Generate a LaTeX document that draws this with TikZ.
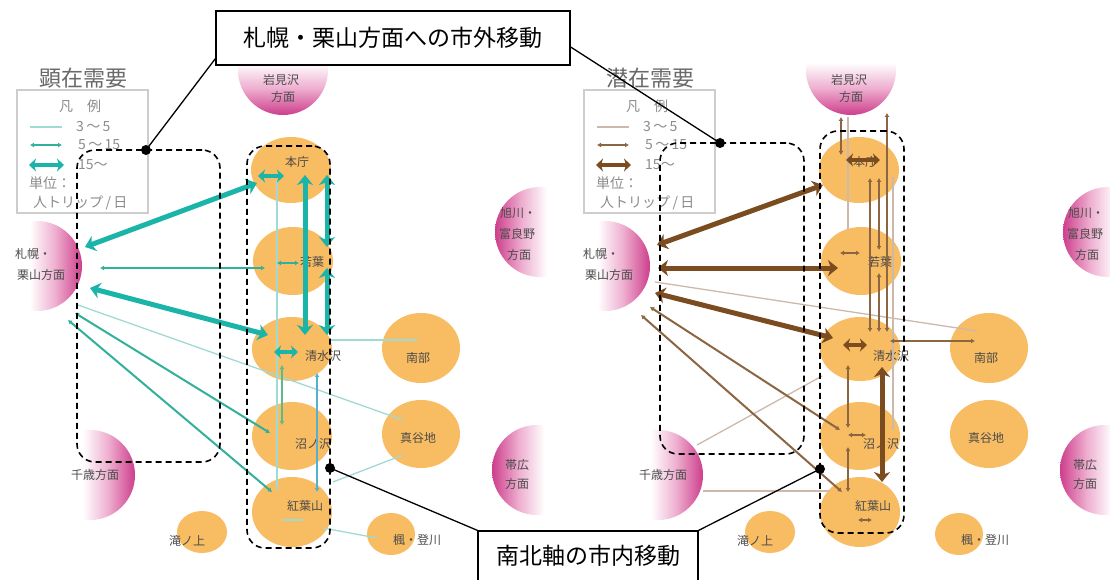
\documentclass[tikz,border=0pt]{standalone}
\usepackage{fontspec}
\setmainfont{Noto Sans CJK JP}
\usetikzlibrary{arrows.meta,shapes.geometric,calc}
\definecolor{orangeN}{RGB}{248,188,98}
\definecolor{pinkA}{RGB}{238,175,208}
\definecolor{pinkB}{RGB}{205,62,140}
\definecolor{tealK}{RGB}{27,180,168}
\definecolor{tealM}{RGB}{50,176,155}
\definecolor{tealG}{RGB}{95,185,140}
\definecolor{tealB}{RGB}{85,175,205}
\definecolor{tealT}{RGB}{160,218,212}
\definecolor{brK}{RGB}{122,76,32}
\definecolor{brM}{RGB}{140,102,66}
\definecolor{brT}{RGB}{205,185,172}
\definecolor{txt}{RGB}{75,75,75}
\definecolor{legtxt}{RGB}{140,140,140}
\definecolor{legbox}{RGB}{205,205,205}
\definecolor{ttlc}{RGB}{105,105,105}
\pgfdeclarehorizontalshading{pinkfade}{100bp}{color(0bp)=(white); color(46bp)=(white); color(60bp)=(pinkA); color(75bp)=(pinkB); color(100bp)=(pinkB)}
\tikzset{
  zone/.style={ellipse, fill=orangeN, draw=none, inner sep=0pt},
  dir/.style={circle, minimum size=90pt, inner sep=0pt, draw=none, shade, shading=pinkfade},
  lab/.style={text=txt, font=\fontsize{12}{12}\selectfont, inner sep=0pt},
  ttl/.style={text=ttlc, font=\fontsize{22}{22}\selectfont, inner sep=0pt},
  legt/.style={text=legtxt, font=\fontsize{14}{14}\selectfont, inner sep=0pt},
  legframe/.style={draw=legbox, line width=1.5pt, fill=white},
  thn/.style={line width=1.3pt, draw=#1},
  md/.style={line width=2pt, draw=#1, arrows={Latex[length=4pt,width=5pt]-Latex[length=4pt,width=5pt]}},
  tk/.style={line width=5pt, draw=#1, arrows={Stealth[length=10pt,width=16pt,inset=3pt]-Stealth[length=10pt,width=16pt,inset=3pt]}},
  tki/.style={line width=4.5pt, draw=#1, arrows={Stealth[length=7pt,width=13pt,inset=2pt]-Stealth[length=7pt,width=13pt,inset=2pt]}},
  dashbox/.style={draw=black, line width=1.6pt, dash pattern=on 6pt off 4pt, rounded corners=18pt, inner sep=0pt},
  callout/.style={draw=black, line width=1.3pt, fill=white, font=\fontsize{23}{23}\selectfont, inner sep=0pt},
  dotn/.style={circle, fill=black, minimum size=10pt, inner sep=0pt},
  leader/.style={line width=1.3pt, draw=black}
}
\newcommand{\panelbase}[2]{%
  \node[dir, shading angle=-90] (#1I) at (283+#2,70) {};
  \node[dir] (#1S) at (37+#2,266) {};
  \node[dir] (#1C) at (90+#2,475) {};
  \node[dir, shading angle=180] (#1A) at (540+#2,232) {};
  \node[dir, shading angle=180] (#1O) at (537+#2,470) {};
  \node[zone, minimum width=80pt, minimum height=66pt] (#1H) at (291+#2,170) {};
  \node[zone, minimum width=80pt, minimum height=68pt] (#1W) at (293+#2,261) {};
  \node[zone, minimum width=80pt, minimum height=64pt] (#1Sm) at (292+#2,349) {};
  \node[zone, minimum width=80pt, minimum height=68pt] (#1N) at (292+#2,436) {};
  \node[zone, minimum width=80pt, minimum height=70pt] (#1K) at (292+#2,512) {};
  \node[zone, minimum width=78pt, minimum height=70pt] (#1Nb) at (421+#2,348) {};
  \node[zone, minimum width=78pt, minimum height=68pt] (#1M) at (421+#2,434) {};
  \node[zone, minimum width=48pt, minimum height=42pt] (#1Ka) at (391+#2,534) {};
  \node[zone, minimum width=50pt, minimum height=42pt] (#1T) at (202+#2,532) {};
  \node[lab] (#1Il1) at (281+#2,80) {岩見沢};
  \node[lab] (#1Il2) at (283+#2,97) {方面};
  \node[lab] (#1Sl1) at (33+#2,254) {札幌・};
  \node[lab] (#1Sl2) at (41+#2,275) {栗山方面};
  \node[lab] (#1Cl) at (95+#2,475) {千歳方面};
  \node[lab] (#1Al1) at (518+#2,213) {旭川・};
  \node[lab] (#1Al2) at (517+#2,234) {富良野};
  \node[lab] (#1Al3) at (519+#2,255) {方面};
  \node[lab] (#1Ol1) at (517+#2,465) {帯広};
  \node[lab] (#1Ol2) at (517+#2,484) {方面};
  \node[lab] (#1Hl) at (297+#2,162) {本庁};
  \node[lab] (#1Wl) at (312+#2,262) {若葉};
  \node[lab] (#1Sml) at (323+#2,356) {清水沢};
  \node[lab] (#1Nl) at (313+#2,444) {沼ノ沢};
  \node[lab] (#1Kl) at (305+#2,506) {紅葉山};
  \node[lab] (#1Nbl) at (418+#2,358) {南部};
  \node[lab] (#1Ml) at (418+#2,438) {真谷地};
  \node[lab] (#1Kal) at (417+#2,540) {楓・登川};
  \node[lab] (#1Tl) at (187+#2,541) {滝ノ上};
}
\newcommand{\legendbox}[6]{%
  \node[ttl] (#1title) at (83+#2,78) {#3};
  \node[legframe, minimum width=131pt, minimum height=123pt] (#1leg) at (82.5+#2,151.5) {};
  \node[legt] (#1lh) at (80+#2,106) {凡　例};
  \coordinate (#1a1) at (30+#2,127); \coordinate (#1b1) at (62+#2,127);
  \draw[thn=#4] (#1a1) -- (#1b1);
  \node[legt, anchor=west] (#1t1) at (76+#2,127) {3\,〜\,5};
  \coordinate (#1a2) at (30+#2,145); \coordinate (#1b2) at (62+#2,145);
  \draw[md=#5] (#1a2) -- (#1b2);
  \node[legt, anchor=west] (#1t2) at (78+#2,145) {5\,〜\,15};
  \coordinate (#1a3) at (29+#2,165); \coordinate (#1b3) at (64+#2,165);
  \draw[tki=#6] (#1a3) -- (#1b3);
  \node[legt, anchor=west] (#1t3) at (78+#2,165) {15〜};
  \node[legt, anchor=west] (#1u1) at (29+#2,183) {単位：};
  \node[legt, anchor=west] (#1u2) at (33+#2,203) {人トリップ\,/\,日};
}
\begin{document}
\begin{tikzpicture}[x=1pt,y=-1pt]
\useasboundingbox (0,0) rectangle (1110,580);
\fill[white] (0,0) rectangle (1110,580);
\panelbase{L}{0}
\panelbase{R}{568}
\legendbox{L}{0}{顕在需要}{tealT}{tealM}{tealK}
\legendbox{R}{567}{潜在需要}{brT}{brM}{brK}
% ---- left panel connectors
\draw[thn=tealT] ($(LS)+(41,39)$) -- ($(LM)+(-18,-14)$);
\draw[thn=tealT] ($(LH)+(-14,10)$) -- ($(LK)+(-15,-22)$);
\draw[thn=tealT] ($(LSm)+(38,-9)$) -- ($(LNb)+(-4,-8)$);
\draw[thn=tealT] ($(LK)+(41,-30)$) -- ($(LM)+(-18,21)$);
\draw[thn=tealT] ($(LK)+(31,16)$) -- ($(LKa)+(-14,4)$);
\draw[thn=tealT] ($(LK)+(-9,8)$) -- ($(LK)+(11,8)$);
\draw[md=tealM] ($(LS)+(63,2)$) -- ($(LW)+(-28,7)$);
\draw[md=tealM] ($(LS)+(38,47)$) -- ($(LN)+(-22,-3)$);
\draw[md=tealM] ($(LS)+(31,54)$) -- ($(LK)+(-20,-20)$);
\draw[md=tealM] ($(LW)+(-16,2)$) -- ($(LW)+(6,2)$);
\draw[md=tealG] ($(LSm)+(-10,16)$) -- ($(LN)+(-10,-11)$);
\draw[md=tealB] ($(LSm)+(25,24)$) -- ($(LK)+(25,-20)$);
\draw[tk=tealK] ($(LS)+(48,-19)$) -- ($(LH)+(-34,13)$);
\draw[tk=tealK] ($(LS)+(53,22)$) -- ($(LSm)+(-24,-14)$);
\draw[tk=tealK] ($(LH)+(14,5)$) -- ($(LSm)+(13,-14)$);
\draw[tk=tealK] ($(LH)+(36,5)$) -- ($(LW)+(34,-14)$);
\draw[tk=tealK] ($(LW)+(34,7)$) -- ($(LSm)+(35,-14)$);
\draw[tki=tealK] ($(LH)+(-33,6)$) -- ($(LH)+(-7,6)$);
\draw[tki=tealK] ($(LSm)+(-18,3)$) -- ($(LSm)+(6,3)$);
% ---- right panel connectors
\draw[thn=brT] ($(RS)+(50,16)$) -- ($(RNb)+(-12,-17)$);
\draw[thn=brT] ($(RC)+(39,-30)$) -- ($(RSm)+(-38,27)$);
\draw[thn=brT] ($(RC)+(45,16)$) -- ($(RK)+(-30,-21)$);
\draw[thn=brT] ($(RI)+(-3,47)$) -- ($(RW)+(-13,-31)$);
\draw[thn=brT] ($(RH)+(34,7)$) -- ($(RN)+(33,-6)$);
\draw[md=brM] ($(RS)+(45,41)$) -- ($(RN)+(-20,-6)$);
\draw[md=brM] ($(RS)+(36,49)$) -- ($(RK)+(-18,-20)$);
\draw[md=brM] ($(RI)+(-10,47)$) -- ($(RH)+(-18,-15)$);
\draw[md=brM] ($(RH)+(11,8)$) -- ($(RSm)+(10,-17)$);
\draw[md=brM] ($(RH)+(20,8)$) -- ($(RW)+(18,-11)$);
\draw[md=brM] ($(RW)+(18,12)$) -- ($(RSm)+(19,-17)$);
\draw[md=brM] ($(RI)+(36,43)$) -- ($(RSm)+(27,-17)$);
\draw[md=brM] ($(RSm)+(-12,16)$) -- ($(RN)+(-12,-8)$);
\draw[md=brM] ($(RN)+(-12,11)$) -- ($(RK)+(-12,-20)$);
\draw[md=brM] ($(RSm)+(30,-8)$) -- ($(RNb)+(-14,-7)$);
\draw[md=brM] ($(RN)+(-12,-1)$) -- ($(RN)+(6,-1)$);
\draw[md=brM] ($(RK)+(-2,8)$) -- ($(RK)+(12,8)$);
\draw[md=brM] ($(RW)+(-21,-8)$) -- ($(RW)+(-1,-8)$);
\draw[tk=brK] ($(RS)+(52,-21)$) -- ($(RH)+(-36,15)$);
\draw[tk=brK] ($(RS)+(53,2)$) -- ($(RW)+(-23,7)$);
\draw[tk=brK] ($(RS)+(50,27)$) -- ($(RSm)+(-27,-11)$);
\draw[tk=brK] ($(RSm)+(22,18)$) -- ($(RK)+(22,-30)$);
\draw[tki=brK] ($(RSm)+(-17,-4)$) -- ($(RSm)+(7,-4)$);
\draw[tki=brK] ($(RH)+(-13,-10)$) -- ($(RH)+(21,-10)$);
% ---- dashed groups
\node[dashbox, minimum width=143pt, minimum height=312pt] (Lout) at (148.5,306) {};
\node[dashbox, minimum width=83pt, minimum height=402pt] (Lin) at (288.5,347) {};
\node[dashbox, minimum width=144pt, minimum height=311pt] (Rout) at (732,298.5) {};
\node[dashbox, minimum width=84pt, minimum height=402pt] (Rin) at (862,332) {};
% ---- callouts
\node[dotn] (D1) at (146,150) {};
\node[dotn] (D2) at (720,143) {};
\node[dotn] (D3) at (330,468) {};
\node[dotn] (D4) at (820,469) {};
\node[callout, minimum width=354pt, minimum height=54pt] (C1) at (393,38) {札幌・栗山方面への市外移動};
\node[callout, minimum width=220pt, minimum height=50pt] (C2) at (588,556) {南北軸の市内移動};
\draw[leader] ([yshift=7pt]C1.south west) -- (D1.center);
\draw[leader] ([yshift=-9pt]C1.east) -- (D2.center);
\draw[leader] (C2.north west) -- (D3.center);
\draw[leader] (C2.north east) -- (D4.center);
\end{tikzpicture}
\end{document}
